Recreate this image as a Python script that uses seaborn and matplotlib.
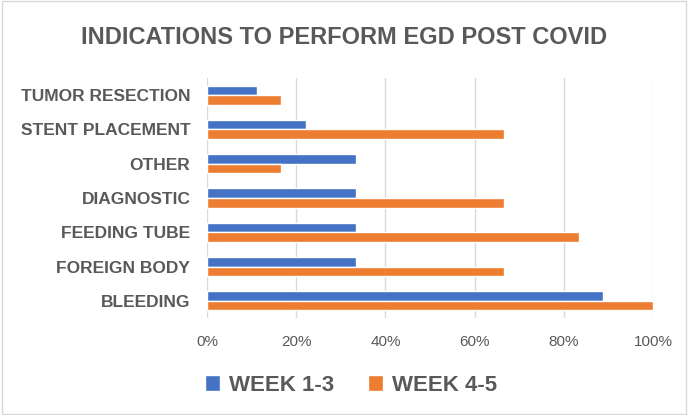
import matplotlib
matplotlib.use("Agg")
import matplotlib.pyplot as plt
import seaborn as sns
import pandas as pd
from matplotlib.patches import Rectangle
from matplotlib.ticker import PercentFormatter

# values (fraction of cases)
indications = ["TUMOR RESECTION", "STENT PLACEMENT", "OTHER", "DIAGNOSTIC",
               "FEEDING TUBE", "FOREIGN BODY", "BLEEDING"]
week_1_3 = [0.111, 0.222, 0.333, 0.333, 0.333, 0.333, 0.889]
week_4_5 = [0.167, 0.667, 0.167, 0.667, 0.833, 0.667, 1.0]
series = ["WEEK 1-3", "WEEK 4-5"]
colors = ["#4472C4", "#ED7D31"]

df = pd.DataFrame({
    "indication": indications * 2,
    "share": week_1_3 + week_4_5,
    "period": [series[0]] * len(indications) + [series[1]] * len(indications),
})

sns.set_style("white")
plt.rcParams["font.family"] = ["Liberation Sans Narrow", "Liberation Sans", "DejaVu Sans"]
grey = "#595959"

fig = plt.figure(figsize=(6.88, 4.15), dpi=100)
ax = fig.add_axes([207 / 688, 1 - 318 / 415, 446 / 688, 240 / 415])

sns.barplot(data=df, y="indication", x="share", hue="period", order=indications,
            hue_order=series, palette=colors, orient="h", width=0.56,
            saturation=1, ax=ax, legend=True)

ax.set_xlim(0, 1.0)
ax.set_xticks([0, 0.2, 0.4, 0.6, 0.8, 1.0])
ax.xaxis.set_major_formatter(PercentFormatter(1.0, decimals=0))
ax.grid(axis="x", color="#d9d9d9", linewidth=1)
ax.set_axisbelow(True)
for s in ax.spines.values():
    s.set_visible(False)
ax.set_xlabel("")
ax.set_ylabel("")
ax.tick_params(axis="x", length=0, pad=12, labelsize=11, labelcolor=grey)
ax.tick_params(axis="y", length=0, pad=12, labelsize=12.5, labelcolor=grey)
for lbl in ax.get_yticklabels():
    lbl.set_fontweight("bold")

handles, labels = ax.get_legend_handles_labels()
ax.get_legend().remove()
leg = fig.legend(handles, labels, loc="center", bbox_to_anchor=(0.51, 1 - 385 / 415),
                 ncol=2, frameon=False, fontsize=16, handlelength=0.7,
                 handleheight=0.7, columnspacing=1.5, handletextpad=0.4)
for t in leg.get_texts():
    t.set_color(grey)
    t.set_fontweight("bold")

fig.text(0.5, 1 - 38 / 415, "INDICATIONS TO PERFORM EGD POST COVID", ha="center",
         va="center", fontsize=17, fontweight="bold", color=grey)

fig.patches.append(Rectangle((0.003, 0.003), 0.994, 0.994, transform=fig.transFigure,
                             fill=False, edgecolor="#d9d9d9", linewidth=1))

fig.savefig("out.png", dpi=100)
